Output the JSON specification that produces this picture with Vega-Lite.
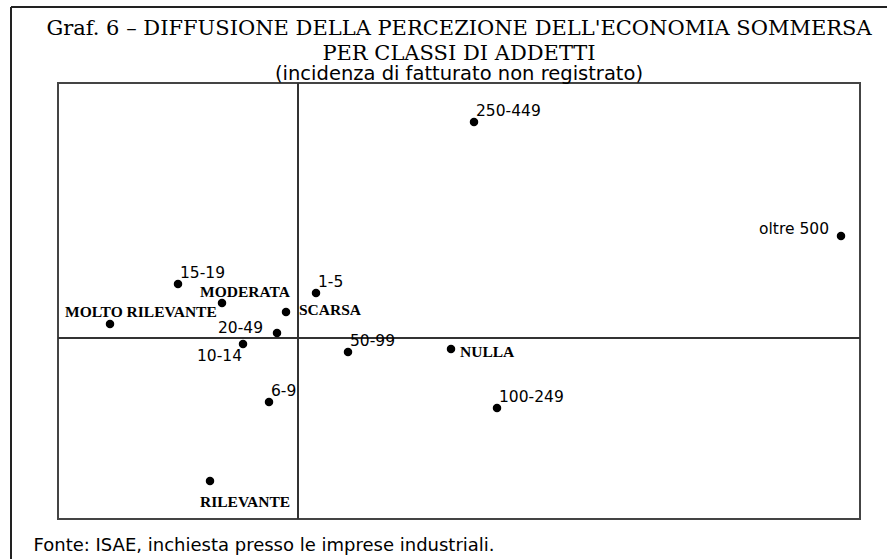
{
  "$schema": "https://vega.github.io/schema/vega-lite/v6.json",
  "autosize": {"type": "none"},
  "width": 802,
  "height": 436,
  "padding": {"left": 58, "top": 83, "right": 27, "bottom": 40},
  "background": "white",
  "config": {
    "view": {"stroke": "#444444", "strokeWidth": 2},
    "title": {"color": "black"}
  },
  "title": {
    "text": ["Graf. 6 – DIFFUSIONE DELLA PERCEZIONE DELL'ECONOMIA SOMMERSA", "PER CLASSI DI ADDETTI"],
    "subtitle": "(incidenza di fatturato non registrato)",
    "anchor": "middle",
    "font": "DejaVu Serif",
    "fontSize": 21,
    "fontWeight": "normal",
    "lineHeight": 25,
    "subtitleFont": "DejaVu Sans",
    "subtitleFontSize": 19.5,
    "subtitleColor": "black",
    "subtitleLineHeight": 19.5,
    "subtitlePadding": 1,
    "offset": -77
  },
  "data": {
    "values": [
      {"label": "250-449", "tipo": "classe", "x": 0.88, "y": 1.08},
      {"label": "oltre 500", "tipo": "classe", "x": 2.715, "y": 0.51},
      {"label": "15-19", "tipo": "classe", "x": -0.6, "y": 0.27},
      {"label": "1-5", "tipo": "classe", "x": 0.09, "y": 0.225},
      {"label": "20-49", "tipo": "classe", "x": -0.105, "y": 0.025},
      {"label": "10-14", "tipo": "classe", "x": -0.275, "y": -0.03},
      {"label": "50-99", "tipo": "classe", "x": 0.25, "y": -0.07},
      {"label": "6-9", "tipo": "classe", "x": -0.145, "y": -0.32},
      {"label": "100-249", "tipo": "classe", "x": 0.995, "y": -0.35},
      {"label": "MODERATA", "tipo": "modalita", "x": -0.38, "y": 0.175},
      {"label": "SCARSA", "tipo": "modalita", "x": -0.06, "y": 0.13},
      {"label": "MOLTO RILEVANTE", "tipo": "modalita", "x": -0.94, "y": 0.07},
      {"label": "NULLA", "tipo": "modalita", "x": 0.765, "y": -0.055},
      {"label": "RILEVANTE", "tipo": "modalita", "x": -0.44, "y": -0.715}
    ]
  },
  "layer": [
    {
      "mark": {"type": "rule", "stroke": "#222222", "strokeWidth": 2},
      "encoding": {
        "x": {"datum": -1.435, "type": "quantitative", "scale": {"domain": [-1.2, 2.81], "nice": false, "zero": false},
          "axis": {
            "title": "Fonte: ISAE, inchiesta presso le imprese industriali.",
            "labels": false, "ticks": false, "domain": false, "grid": false,
            "titleAnchor": "start", "titleAlign": "left", "titleBaseline": "alphabetic",
            "titleX": -25, "titleY": 31,
            "titleFont": "DejaVu Sans", "titleFontSize": 18, "titleFontWeight": "normal", "titleColor": "black"
          }},
        "x2": {"datum": 2.95},
        "y": {"datum": 1.655, "type": "quantitative", "axis": null, "scale": {"domain": [-0.905, 1.275], "nice": false, "zero": false}}
      }
    },
    {
      "mark": {"type": "rule", "stroke": "#222222", "strokeWidth": 2},
      "encoding": {
        "x": {"datum": -1.435, "type": "quantitative", "scale": {"domain": [-1.2, 2.81], "nice": false, "zero": false},
          "axis": {
            "title": "Fonte: ISAE, inchiesta presso le imprese industriali.",
            "labels": false, "ticks": false, "domain": false, "grid": false,
            "titleAnchor": "start", "titleAlign": "left", "titleBaseline": "alphabetic",
            "titleX": -25, "titleY": 31,
            "titleFont": "DejaVu Sans", "titleFontSize": 18, "titleFontWeight": "normal", "titleColor": "black"
          }},
        "y": {"datum": 1.655, "type": "quantitative", "axis": null, "scale": {"domain": [-0.905, 1.275], "nice": false, "zero": false}},
        "y2": {"datum": -1.12}
      }
    },
    {
      "mark": {"type": "rule", "stroke": "#333333", "strokeWidth": 1},
      "encoding": {
        "x": {"datum": 0, "type": "quantitative", "scale": {"domain": [-1.2, 2.81], "nice": false, "zero": false},
          "axis": {
            "title": "Fonte: ISAE, inchiesta presso le imprese industriali.",
            "labels": false, "ticks": false, "domain": false, "grid": false,
            "titleAnchor": "start", "titleAlign": "left", "titleBaseline": "alphabetic",
            "titleX": -25, "titleY": 31,
            "titleFont": "DejaVu Sans", "titleFontSize": 18, "titleFontWeight": "normal", "titleColor": "black"
          }}
      }
    },
    {
      "mark": {"type": "rule", "stroke": "#333333", "strokeWidth": 1},
      "encoding": {
        "y": {"datum": 0, "type": "quantitative", "axis": null, "scale": {"domain": [-0.905, 1.275], "nice": false, "zero": false}}
      }
    },
    {
      "encoding": {
        "x": {
          "field": "x", "type": "quantitative",
          "scale": {"domain": [-1.2, 2.81], "nice": false, "zero": false},
          "axis": {
            "title": "Fonte: ISAE, inchiesta presso le imprese industriali.",
            "labels": false, "ticks": false, "domain": false, "grid": false,
            "titleAnchor": "start", "titleAlign": "left", "titleBaseline": "alphabetic",
            "titleX": -25, "titleY": 31,
            "titleFont": "DejaVu Sans", "titleFontSize": 18, "titleFontWeight": "normal", "titleColor": "black"
          }
        },
        "y": {
          "field": "y", "type": "quantitative",
          "scale": {"domain": [-0.905, 1.275], "nice": false, "zero": false},
          "axis": null
        }
      },
      "layer": [
        {
          "mark": {"type": "circle", "size": 72, "color": "black", "opacity": 1}
        },
        {
          "transform": [{"filter": {"field": "label", "oneOf": ["250-449", "15-19", "1-5", "50-99", "100-249", "6-9"]}}],
          "mark": {"type": "text", "font": "DejaVu Sans", "fontSize": 15.5, "align": "left", "baseline": "middle", "dx": 2, "dy": -11, "color": "black"},
          "encoding": {"text": {"field": "label"}}
        },
        {
          "transform": [{"filter": {"field": "label", "equal": "oltre 500"}}],
          "mark": {"type": "text", "font": "DejaVu Sans", "fontSize": 15.5, "align": "right", "baseline": "middle", "dx": -12, "dy": -7, "color": "black"},
          "encoding": {"text": {"field": "label"}}
        },
        {
          "transform": [{"filter": {"field": "label", "equal": "20-49"}}],
          "mark": {"type": "text", "font": "DejaVu Sans", "fontSize": 15.5, "align": "right", "baseline": "middle", "dx": -14, "dy": -5, "color": "black"},
          "encoding": {"text": {"field": "label"}}
        },
        {
          "transform": [{"filter": {"field": "label", "equal": "10-14"}}],
          "mark": {"type": "text", "font": "DejaVu Sans", "fontSize": 15.5, "align": "right", "baseline": "middle", "dx": -1, "dy": 12, "color": "black"},
          "encoding": {"text": {"field": "label"}}
        },
        {
          "transform": [{"filter": {"field": "label", "equal": "MODERATA"}}],
          "mark": {"type": "text", "font": "Liberation Serif", "fontWeight": "bold", "fontSize": 15.5, "align": "left", "baseline": "middle", "dx": -22, "dy": -11, "color": "black"},
          "encoding": {"text": {"field": "label"}}
        },
        {
          "transform": [{"filter": {"field": "label", "equal": "SCARSA"}}],
          "mark": {"type": "text", "font": "Liberation Serif", "fontWeight": "bold", "fontSize": 15.5, "align": "left", "baseline": "middle", "dx": 13, "dy": -2, "color": "black"},
          "encoding": {"text": {"field": "label"}}
        },
        {
          "transform": [{"filter": {"field": "label", "equal": "MOLTO RILEVANTE"}}],
          "mark": {"type": "text", "font": "Liberation Serif", "fontWeight": "bold", "fontSize": 15.5, "align": "left", "baseline": "middle", "dx": -45, "dy": -12, "color": "black"},
          "encoding": {"text": {"field": "label"}}
        },
        {
          "transform": [{"filter": {"field": "label", "equal": "NULLA"}}],
          "mark": {"type": "text", "font": "Liberation Serif", "fontWeight": "bold", "fontSize": 15.5, "align": "left", "baseline": "middle", "dx": 9, "dy": 3, "color": "black"},
          "encoding": {"text": {"field": "label"}}
        },
        {
          "transform": [{"filter": {"field": "label", "equal": "RILEVANTE"}}],
          "mark": {"type": "text", "font": "Liberation Serif", "fontWeight": "bold", "fontSize": 15.5, "align": "left", "baseline": "middle", "dx": -10, "dy": 21, "color": "black"},
          "encoding": {"text": {"field": "label"}}
        }
      ]
    }
  ]
}
